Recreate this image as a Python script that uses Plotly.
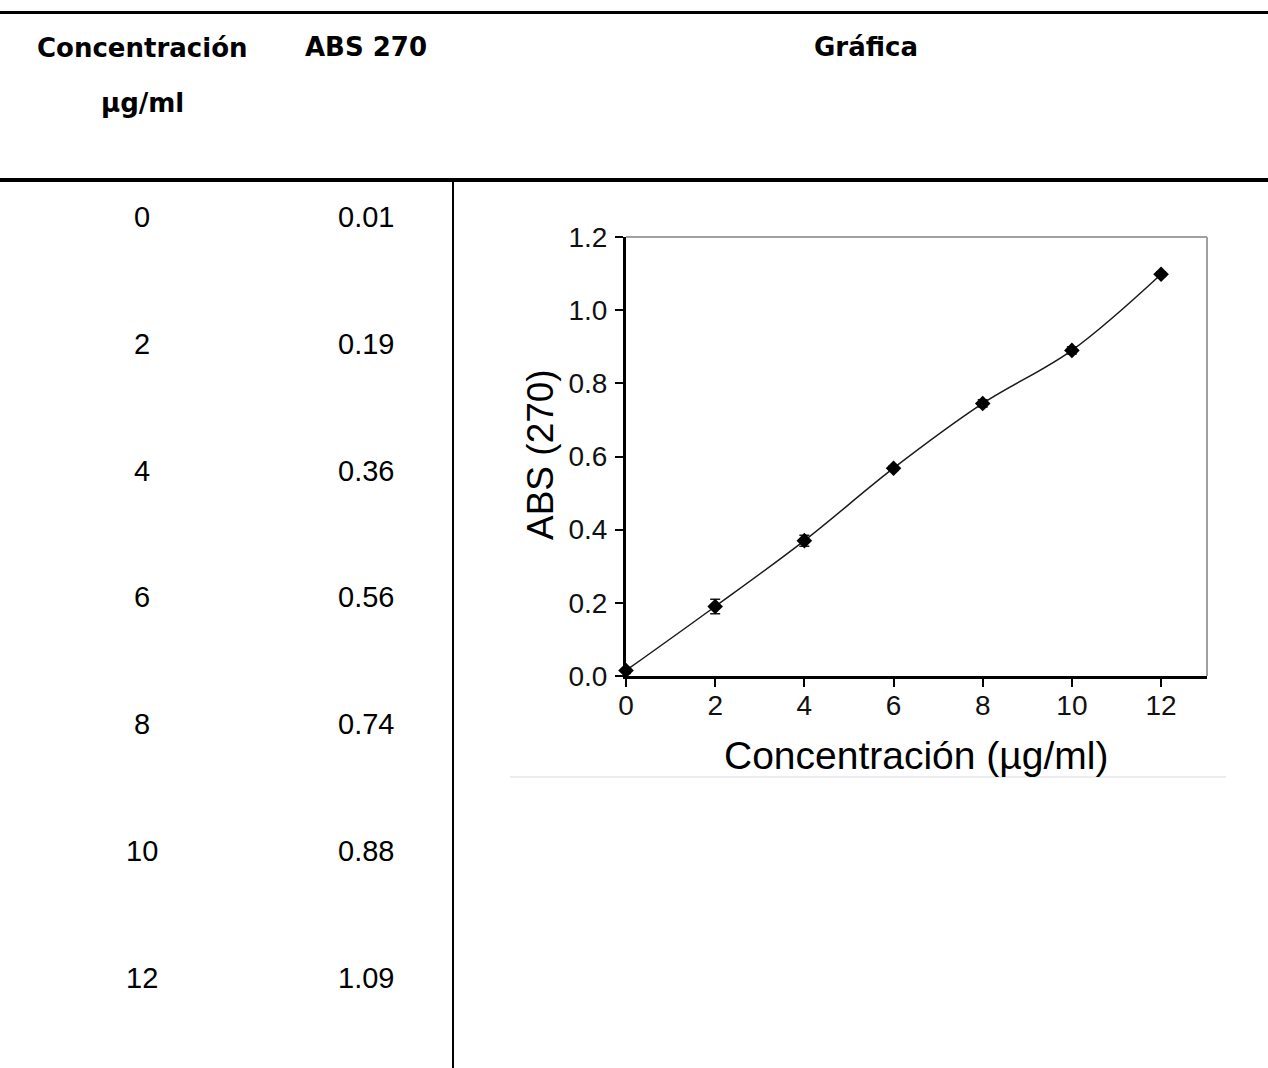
import plotly.graph_objects as go

# ---------------- data ----------------
header_labels = ["Concentración", "µg/ml", "ABS 270", "Gráfica"]
table_conc = ["0", "2", "4", "6", "8", "10", "12"]
table_abs = ["0.01", "0.19", "0.36", "0.56", "0.74", "0.88", "1.09"]

chart_x = [0, 2, 4, 6, 8, 10, 12]
chart_y = [0.015, 0.19, 0.37, 0.568, 0.745, 0.89, 1.098]
chart_err = [0.008, 0.02, 0.015, 0.006, 0.01, 0.01, 0.006]
x_ticks = [0, 2, 4, 6, 8, 10, 12]

x_title = "Concentración (µg/ml)"
y_title = "ABS (270)"

# ---------------- layout helpers ----------------
W, H = 1268, 1068


def px(x):
    return x / W


def py(y):
    return 1 - y / H


fig = go.Figure()

fig.add_trace(go.Scatter(
    x=chart_x, y=chart_y,
    mode="lines+markers",
    line=dict(color="#1a1a1a", width=1.5, shape="spline", smoothing=1.0),
    marker=dict(symbol="diamond", size=12, color="black"),
    error_y=dict(type="data", array=chart_err, visible=True,
                 color="#1a1a1a", thickness=1.5, width=5),
    cliponaxis=False,
    showlegend=False,
))

annotations = []
hdr_font = dict(family="DejaVu Sans", size=26, color="black", weight="bold")
hdr_pos = [(142, 48), (142, 103), (366, 47), (866, 47)]
for lab, (hx, hy) in zip(header_labels, hdr_pos):
    annotations.append(dict(x=px(hx), y=py(hy), text="<b>" + lab + "</b>", showarrow=False,
                            xref="paper", yref="paper", xanchor="center", yanchor="middle",
                            font=hdr_font))

body_font = dict(family="Liberation Sans", size=29, color="black")
row0, row_step = 217, 126.8
for i, (c, a) in enumerate(zip(table_conc, table_abs)):
    yy = row0 + i * row_step
    annotations.append(dict(x=px(142), y=py(yy), text=c, showarrow=False, xref="paper", yref="paper",
                            xanchor="center", yanchor="middle", font=body_font))
    annotations.append(dict(x=px(366), y=py(yy), text=a, showarrow=False, xref="paper", yref="paper",
                            xanchor="center", yanchor="middle", font=body_font))

annotations.append(dict(x=px(916), y=py(755), text=x_title, showarrow=False, xref="paper", yref="paper",
                        xanchor="center", yanchor="middle",
                        font=dict(family="Liberation Sans", size=39, color="black")))
annotations.append(dict(x=px(540), y=py(455), text=y_title, showarrow=False, xref="paper", yref="paper",
                        xanchor="center", yanchor="middle", textangle=-90,
                        font=dict(family="Liberation Sans", size=37, color="black")))

shapes = [
    dict(type="line", xref="paper", yref="paper", x0=0, x1=1, y0=py(12.5), y1=py(12.5),
         line=dict(color="black", width=3)),
    dict(type="line", xref="paper", yref="paper", x0=0, x1=1, y0=py(180), y1=py(180),
         line=dict(color="black", width=4)),
    dict(type="line", xref="paper", yref="paper", x0=px(453), x1=px(453), y0=py(180), y1=0,
         line=dict(color="black", width=2)),
    dict(type="line", xref="paper", yref="paper", x0=px(510), x1=px(1226), y0=py(777), y1=py(777),
         line=dict(color="#ececf2", width=2)),
    dict(type="line", xref="x domain", yref="y domain", x0=0, x1=1, y0=1, y1=1,
         line=dict(color="#a0a0a0", width=2)),
    dict(type="line", xref="x domain", yref="y domain", x0=1, x1=1, y0=0, y1=1,
         line=dict(color="#a0a0a0", width=2)),
]

tick_font = dict(family="Liberation Sans", size=28, color="#111111")
fig.update_layout(
    width=W, height=H,
    margin=dict(l=0, r=0, t=0, b=0, pad=0, autoexpand=False),
    paper_bgcolor="white", plot_bgcolor="white",
    showlegend=False,
    annotations=annotations,
    shapes=shapes,
    xaxis=dict(domain=[px(626), px(1207)], range=[0, 13.03], tickvals=x_ticks, automargin=False,
               showline=True, linewidth=3, linecolor="black",
               ticks="outside", ticklen=8, tickwidth=2, tickcolor="black",
               showgrid=False, zeroline=False, tickfont=tick_font, ticklabelstandoff=-6),
    yaxis=dict(domain=[py(676), py(237)], range=[0, 1.2], dtick=0.2, tick0=0, tickformat=".1f",
               automargin=False,
               showline=True, linewidth=3, linecolor="black",
               ticks="outside", ticklen=8, tickwidth=2, tickcolor="black",
               showgrid=False, zeroline=False, tickfont=tick_font, ticklabelstandoff=2),
)

page_fix = ("document.body.style.margin='0';"
            "document.body.style.overflow='hidden';"
            "document.documentElement.style.overflow='hidden';")
fig.write_html("out.html", post_script=page_fix, config={"displayModeBar": False})
